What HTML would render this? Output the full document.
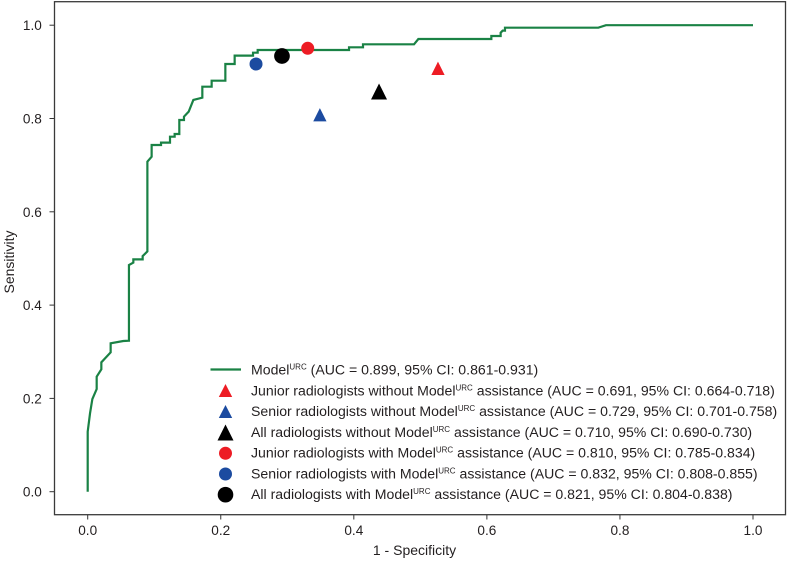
<!DOCTYPE html>
<html>
<head>
<meta charset="utf-8">
<style>
html,body{margin:0;padding:0;background:#fff;width:788px;height:561px;overflow:hidden}
svg{display:block}
text{font-family:"Liberation Sans",Arial,sans-serif;fill:#231f20}
.leg{font-size:14.1px}
.sup{font-size:8px}
.tick{font-size:13.6px}
</style>
</head>
<body>
<svg id="chart" width="788" height="561" viewBox="0 0 788 561" xmlns="http://www.w3.org/2000/svg">
  <g id="ticks"></g>
  <path id="roc" fill="none" stroke="#1a8245" stroke-width="2.2" stroke-linejoin="miter"></path>
  <g id="points"></g>
  <rect x="54.5" y="1.7" width="731" height="513" fill="none" stroke="#3a3a3a" stroke-width="1.3"></rect>
  <text x="414.5" y="555" text-anchor="middle" font-size="14">1 - Specificity</text>
  <text transform="translate(14,262) rotate(-90)" text-anchor="middle" font-size="14">Sensitivity</text>

  <g>
    <g>
      <line x1="210.5" x2="241" y1="369.5" y2="369.5" stroke="#1a8245" stroke-width="2.2"></line>
      <text class="leg" x="251" y="374.5">Model<tspan class="sup" dy="-5">URC</tspan><tspan dy="5"> (AUC = 0.899, 95% CI: 0.861-0.931)</tspan></text>
    </g>
    <g>
      <polygon points="225.5,384 232.2,397 218.8,397" fill="#ed1c24"></polygon>
      <text class="leg" x="251" y="395.5">Junior radiologists without Model<tspan class="sup" dy="-5">URC</tspan><tspan dy="5"> assistance (AUC = 0.691, 95% CI: 0.664-0.718)</tspan></text>
    </g>
    <g>
      <polygon points="225.5,405 232.2,418 218.8,418" fill="#1c4ba0"></polygon>
      <text class="leg" x="251" y="416.2">Senior radiologists without Model<tspan class="sup" dy="-5">URC</tspan><tspan dy="5"> assistance (AUC = 0.729, 95% CI: 0.701-0.758)</tspan></text>
    </g>
    <g>
      <polygon points="225.5,424.5 233.5,440.5 217.5,440.5" fill="#000"></polygon>
      <text class="leg" x="251" y="437">All radiologists without Model<tspan class="sup" dy="-5">URC</tspan><tspan dy="5"> assistance (AUC = 0.710, 95% CI: 0.690-0.730)</tspan></text>
    </g>
    <g>
      <circle cx="225.5" cy="453.3" r="6.5" fill="#ed1c24"></circle>
      <text class="leg" x="251" y="457.7">Junior radiologists with Model<tspan class="sup" dy="-5">URC</tspan><tspan dy="5"> assistance (AUC = 0.810, 95% CI: 0.785-0.834)</tspan></text>
    </g>
    <g>
      <circle cx="225.5" cy="474" r="6.5" fill="#1c4ba0"></circle>
      <text class="leg" x="251" y="478.5">Senior radiologists with Model<tspan class="sup" dy="-5">URC</tspan><tspan dy="5"> assistance (AUC = 0.832, 95% CI: 0.808-0.855)</tspan></text>
    </g>
    <g>
      <circle cx="225.5" cy="494.7" r="7.8" fill="#000"></circle>
      <text class="leg" x="251" y="499.2">All radiologists with Model<tspan class="sup" dy="-5">URC</tspan><tspan dy="5"> assistance (AUC = 0.821, 95% CI: 0.804-0.838)</tspan></text>
    </g>
  </g>
</svg>
<script>
const xTickValues = [0.0, 0.2, 0.4, 0.6, 0.8, 1.0];
const yTickValues = [0.0, 0.2, 0.4, 0.6, 0.8, 1.0];
const rocFpr = [0,0,0.0035,0.007,0.0135,0.0135,0.0205,0.0205,0.0345,0.0345,0.0535,0.062,0.062,0.0686,0.0686,0.0826,0.0826,0.0897,0.0897,0.0961,0.0961,0.1102,0.1102,0.1237,0.1237,0.1307,0.1307,0.1377,0.1377,0.1447,0.1447,0.1518,0.1588,0.1723,0.1723,0.1863,0.1863,0.2069,0.2069,0.2209,0.2209,0.2485,0.2485,0.2555,0.2555,0.3928,0.3928,0.4138,0.4138,0.4905,0.497,0.6067,0.6067,0.6207,0.6207,0.6237,0.6272,0.6272,0.7675,0.779,1.0];
const rocTpr = [0,0.1287,0.168,0.1987,0.22,0.2466,0.2623,0.2773,0.2987,0.318,0.323,0.3237,0.486,0.491,0.498,0.498,0.505,0.515,0.7075,0.718,0.7432,0.7432,0.7482,0.7482,0.761,0.761,0.7668,0.7668,0.7968,0.7968,0.804,0.8146,0.8397,0.8447,0.8682,0.8682,0.881,0.881,0.9168,0.9168,0.9347,0.9347,0.9411,0.9411,0.9468,0.9468,0.9526,0.9526,0.959,0.959,0.9704,0.9704,0.9768,0.9768,0.984,0.9883,0.9883,0.9947,0.9947,1.0,1.0];
const readerNames = ['junior-without','senior-without','all-without','junior-with','senior-with','all-with'];
const readerFpr = [0.5265,0.349,0.4379,0.3307,0.253,0.292];
const readerTpr = [0.9076,0.808,0.858,0.9505,0.9168,0.934];
const readerColors = ['#ed1c24','#1c4ba0','#000000','#ed1c24','#1c4ba0','#000000'];
const readerShapes = ['triangle','triangle','triangle','circle','circle','circle'];
const readerSizes = [13.3,13.3,16,13,13,15.7];

const NS = 'http://www.w3.org/2000/svg';
function xScale(v){ return 87.7 + v * 665.3; }
function yScale(v){ return 491.7 - v * 466.5; }

const tickGroup = document.getElementById('ticks');
xTickValues.forEach(function(v){
  const mark = document.createElementNS(NS,'line');
  
  
  mark.setAttribute('x1', xScale(v));
  mark.setAttribute('x2', xScale(v));
  mark.setAttribute('y1', 514.7);
  mark.setAttribute('y2', 519.5);
  mark.setAttribute('stroke', '#333');
  mark.setAttribute('stroke-width', '1');
  tickGroup.appendChild(mark);
  const label = document.createElementNS(NS,'text');
  
  
  label.setAttribute('class', 'tick');
  label.setAttribute('x', xScale(v));
  label.setAttribute('y', 535);
  label.setAttribute('text-anchor', 'middle');
  label.textContent = v.toFixed(1);
  tickGroup.appendChild(label);
});
yTickValues.forEach(function(v){
  const mark = document.createElementNS(NS,'line');
  
  
  mark.setAttribute('x1', 49.5);
  mark.setAttribute('x2', 54.5);
  mark.setAttribute('y1', yScale(v));
  mark.setAttribute('y2', yScale(v));
  mark.setAttribute('stroke', '#333');
  mark.setAttribute('stroke-width', '1');
  tickGroup.appendChild(mark);
  const label = document.createElementNS(NS,'text');
  
  
  label.setAttribute('class', 'tick');
  label.setAttribute('x', 41.8);
  label.setAttribute('y', yScale(v) + 5);
  label.setAttribute('text-anchor', 'end');
  label.textContent = v.toFixed(1);
  tickGroup.appendChild(label);
});

document.getElementById('roc').setAttribute('d', rocFpr.map(function(f,i){
  return (i ? 'L' : 'M') + xScale(f).toFixed(2) + ' ' + yScale(rocTpr[i]).toFixed(2);
}).join(' '));

const pointGroup = document.getElementById('points');
readerNames.forEach(function(name,i){
  const cx = xScale(readerFpr[i]);
  const cy = yScale(readerTpr[i]);
  const s = readerSizes[i];
  let el;
  if (readerShapes[i] === 'circle') {
    el = document.createElementNS(NS,'circle');
    el.setAttribute('cx', cx);
    el.setAttribute('cy', cy);
    el.setAttribute('r', s / 2);
  } else {
    el = document.createElementNS(NS,'polygon');
    el.setAttribute('points', cx + ',' + (cy - s / 2) + ' ' + (cx + s / 2) + ',' + (cy + s / 2) + ' ' + (cx - s / 2) + ',' + (cy + s / 2));
  }
  el.setAttribute('fill', readerColors[i]);
  
  
  pointGroup.appendChild(el);
});
</script>
</body>
</html>
